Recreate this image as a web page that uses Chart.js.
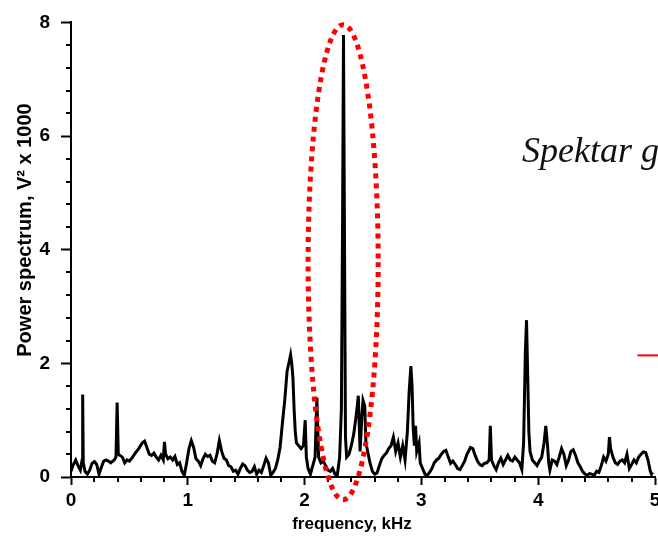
<!DOCTYPE html>
<html>
<head>
<meta charset="utf-8">
<script src="https://cdn.jsdelivr.net/npm/chart.js@4/dist/chart.umd.min.js"></script>
<style>
html,body{margin:0;padding:0;background:#fff;}
canvas{display:block;}
</style>
</head>
<body>
<canvas id="c" width="658" height="539"></canvas>
<script>
// frequency (kHz)
const freqs = [
0.00,0.02,0.04,0.06,0.08,0.095,0.10,0.105,0.12,0.14,0.16,0.18,0.20,0.22,0.24,0.26,0.28,0.30,0.32,0.34,0.37,0.385,0.395,0.405,0.42,0.44,0.46,0.48,0.50,0.52,0.55,0.58,0.61,0.63,0.65,0.67,0.69,0.71,0.73,0.75,0.77,0.79,0.80,0.81,0.83,0.85,0.87,0.89,0.91,0.93,0.95,0.97,0.99,
1.01,1.03,1.05,1.07,1.09,1.11,1.13,1.15,1.17,1.19,1.21,1.23,1.25,1.27,1.29,1.31,1.33,1.35,1.37,1.39,1.41,1.43,1.45,1.47,1.49,1.51,1.53,1.55,1.57,1.59,1.61,1.63,1.65,1.67,1.69,1.71,1.73,1.75,1.77,1.79,1.81,1.83,1.85,1.87,1.88,1.89,1.90,1.91,1.92,1.93,1.95,1.97,1.99,
2.005,2.015,2.03,2.05,2.07,2.09,2.105,2.12,2.14,2.16,2.18,2.20,2.22,2.24,2.26,2.28,2.30,2.315,2.325,2.333,2.342,2.35,2.36,2.38,2.40,2.42,2.44,2.46,2.475,2.49,2.50,2.515,2.525,2.54,2.56,2.58,2.60,2.62,2.64,2.66,2.68,2.70,2.72,2.74,2.76,2.78,2.80,2.82,2.84,2.86,2.88,2.895,2.91,2.92,2.93,2.94,2.95,2.96,2.98,2.99,
3.01,3.03,3.05,3.07,3.09,3.11,3.13,3.15,3.17,3.19,3.21,3.23,3.25,3.27,3.29,3.31,3.33,3.35,3.37,3.39,3.42,3.44,3.46,3.48,3.50,3.52,3.54,3.56,3.58,3.59,3.60,3.62,3.64,3.66,3.68,3.70,3.72,3.74,3.76,3.78,3.80,3.82,3.84,3.86,3.875,3.89,3.90,3.91,3.92,3.93,3.95,3.97,3.99,
4.01,4.03,4.05,4.065,4.08,4.09,4.10,4.12,4.14,4.16,4.18,4.20,4.22,4.24,4.26,4.28,4.30,4.32,4.34,4.36,4.38,4.40,4.42,4.44,4.46,4.48,4.50,4.52,4.54,4.56,4.58,4.60,4.61,4.62,4.64,4.66,4.68,4.70,4.72,4.74,4.76,4.78,4.80,4.82,4.84,4.86,4.88,4.90,4.92,4.94,4.96,4.97,4.98
];
// power spectrum (V^2 x 1000)
const power = [
0.10,0.22,0.30,0.20,0.12,0.30,1.45,0.25,0.10,0.05,0.12,0.24,0.27,0.22,0.05,0.17,0.28,0.30,0.28,0.25,0.30,0.35,1.31,0.40,0.38,0.35,0.25,0.30,0.28,0.33,0.42,0.50,0.60,0.63,0.52,0.40,0.38,0.42,0.35,0.30,0.38,0.30,0.62,0.40,0.32,0.35,0.30,0.36,0.22,0.25,0.10,0.03,0.25,
0.50,0.64,0.52,0.32,0.28,0.20,0.32,0.40,0.36,0.38,0.28,0.25,0.40,0.64,0.45,0.33,0.30,0.20,0.18,0.10,0.12,0.05,0.15,0.23,0.20,0.12,0.08,0.10,0.18,0.05,0.12,0.08,0.20,0.33,0.25,0.03,0.08,0.15,0.30,0.52,0.95,1.35,1.86,2.05,2.15,2.00,1.75,1.20,0.80,0.60,0.55,0.50,0.55,
1.00,0.35,0.15,0.05,0.20,0.35,1.40,0.35,0.25,0.28,0.20,0.12,0.10,0.15,0.05,0.03,0.35,1.20,4.50,7.78,4.00,0.70,0.35,0.40,0.55,0.75,1.05,1.43,0.45,1.05,1.35,1.25,0.60,0.45,0.25,0.10,0.05,0.07,0.20,0.32,0.38,0.42,0.50,0.55,0.70,0.45,0.60,0.35,0.55,0.30,0.80,1.50,1.95,1.60,0.85,0.55,0.90,0.45,0.60,0.25,
0.15,0.05,0.03,0.08,0.15,0.25,0.30,0.33,0.40,0.45,0.47,0.35,0.24,0.28,0.22,0.15,0.13,0.20,0.28,0.40,0.52,0.50,0.38,0.28,0.22,0.20,0.24,0.25,0.30,0.90,0.30,0.20,0.13,0.25,0.33,0.22,0.30,0.38,0.30,0.28,0.35,0.30,0.25,0.13,0.60,2.20,2.76,1.80,0.80,0.45,0.30,0.25,0.20,
0.28,0.35,0.60,0.90,0.55,0.25,0.12,0.30,0.28,0.22,0.35,0.50,0.40,0.20,0.30,0.45,0.48,0.38,0.25,0.18,0.10,0.05,0.03,0.06,0.05,0.03,0.10,0.08,0.20,0.35,0.28,0.40,0.70,0.50,0.35,0.25,0.22,0.28,0.30,0.25,0.40,0.15,0.22,0.30,0.25,0.35,0.40,0.44,0.43,0.30,0.10,0.05,0.08
];
const xTickLabels = ['0','1','2','3','4','5'];
const yTickLabels = ['0','2','4','6','8'];
// annotation: ellipse around main peak [centerFreq, centerPower, radiusFreq, radiusPower]
const ellipseSpec = [2.33, 3.78, 0.30, 4.18];
// short red marker line [startFreq, power]
const redMark = [4.85, 2.14];

const points = freqs.map((f, i) => ({x: f, y: power[i]}));
const tickFont = {family: 'Liberation Sans, Arial, sans-serif', size: 19, weight: 'bold'};

const decorPlugin = {
  id: 'decor',
  afterDraw(chart) {
    const ctx = chart.ctx;
    const xs = chart.scales.x, ys = chart.scales.y;
    const area = chart.chartArea;
    ctx.save();
    // minor ticks
    ctx.strokeStyle = '#000';
    ctx.lineWidth = 2;
    for (let k = 1; k < 20; k++) {
      if (k % 5 === 0) continue;
      const v = k * 0.4;
      const py = Math.round(ys.getPixelForValue(v));
      ctx.beginPath(); ctx.moveTo(area.left - 5, py); ctx.lineTo(area.left, py); ctx.stroke();
    }
    for (let k = 1; k < 25; k++) {
      if (k % 5 === 0) continue;
      const v = k * 0.2;
      const px = Math.round(xs.getPixelForValue(v));
      ctx.beginPath(); ctx.moveTo(px, area.bottom); ctx.lineTo(px, area.bottom + 5); ctx.stroke();
    }
    // axis titles
    ctx.fillStyle = '#000';
    ctx.font = 'bold 17px "Liberation Sans", Arial, sans-serif';
    ctx.textAlign = 'center'; ctx.textBaseline = 'middle';
    ctx.fillText('frequency, kHz', 352, 524);
    ctx.save();
    ctx.translate(25, 230);
    ctx.rotate(-Math.PI / 2);
    ctx.font = '600 20px "Liberation Sans", Arial, sans-serif';
    ctx.fillText('Power spectrum, V\u00B2 x 1000', 0, 0);
    ctx.restore();
    // ellipse
    const cx = xs.getPixelForValue(ellipseSpec[0]);
    const cy = ys.getPixelForValue(ellipseSpec[1]);
    const rx = xs.getPixelForValue(ellipseSpec[0] + ellipseSpec[2]) - cx;
    const ry = cy - ys.getPixelForValue(ellipseSpec[1] + ellipseSpec[3]);
    ctx.strokeStyle = '#ff0000';
    ctx.lineWidth = 5;
    ctx.setLineDash([5, 5]);
    ctx.beginPath();
    ctx.ellipse(cx, cy, rx, ry, 0, 0, Math.PI * 2);
    ctx.stroke();
    ctx.setLineDash([]);
    // red mark
    const my = ys.getPixelForValue(redMark[1]);
    ctx.lineWidth = 2;
    ctx.beginPath();
    ctx.moveTo(xs.getPixelForValue(redMark[0]), my);
    ctx.lineTo(chart.width, my);
    ctx.stroke();
    // italic text
    ctx.fillStyle = '#111';
    ctx.font = 'italic 36px "Liberation Serif", "Times New Roman", serif';
    ctx.textAlign = 'left'; ctx.textBaseline = 'alphabetic';
    ctx.fillText('Spektar g', 522, 162);
    ctx.restore();
  }
};

new Chart(document.getElementById('c'), {
  type: 'line',
  data: {
    datasets: [{
      data: points,
      borderColor: '#000',
      borderWidth: 3,
      pointRadius: 0,
      tension: 0,
      fill: false
    }]
  },
  options: {
    responsive: false,
    animation: false,
    events: [],
    layout: {padding: {left: 0, right: 3, top: 18, bottom: 0}},
    plugins: {legend: {display: false}, tooltip: {enabled: false}},
    scales: {
      x: {
        type: 'linear', min: 0, max: 5,
        afterFit(s) { s.height = 62; s.paddingLeft = 0; s.paddingRight = 0; },
        ticks: {
          stepSize: 1, color: '#000', font: tickFont, padding: 4, maxRotation: 0,
          callback: (v) => xTickLabels[Math.round(v)]
        },
        grid: {display: true, drawOnChartArea: false, drawTicks: true, tickLength: 8, tickColor: '#000', tickWidth: 2, color: '#000'},
        border: {display: true, color: '#000', width: 2}
      },
      y: {
        type: 'linear', min: 0, max: 8,
        afterFit(s) { s.width = 71; },
        ticks: {
          stepSize: 2, color: '#000', font: tickFont, padding: 11,
          callback: (v) => yTickLabels[Math.round(v / 2)]
        },
        grid: {display: true, drawOnChartArea: false, drawTicks: true, tickLength: 10, tickColor: '#000', tickWidth: 2, color: '#000'},
        border: {display: true, color: '#000', width: 2}
      }
    }
  },
  plugins: [decorPlugin]
});
</script>
</body>
</html>
